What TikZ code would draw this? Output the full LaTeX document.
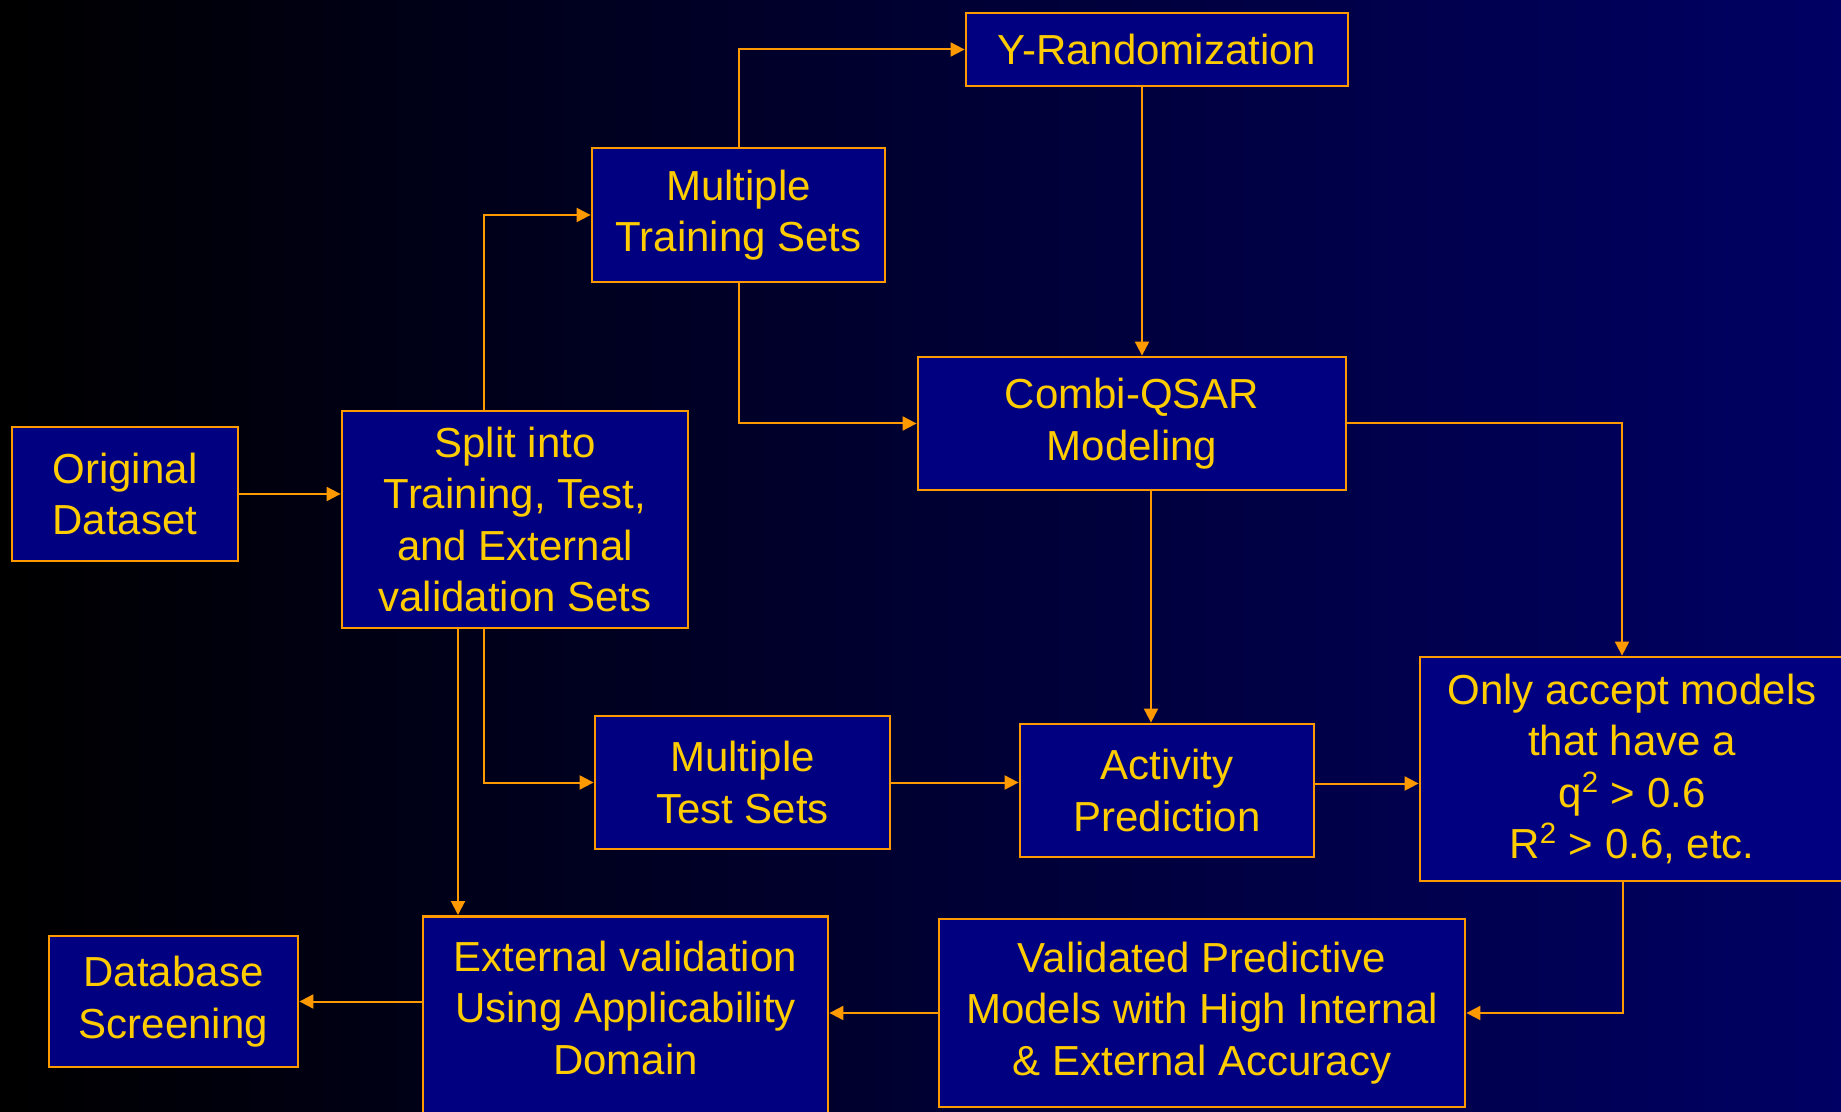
\documentclass[tikz,border=0pt]{standalone}
\usepackage{fontspec}
\setmainfont{Liberation Sans}
\usetikzlibrary{positioning}
\usetikzlibrary{calc, arrows.meta}

\definecolor{slidenavy}{RGB}{0,0,128}
\definecolor{bgnavy}{RGB}{0,0,100}
\definecolor{lineorange}{RGB}{255,153,0}
\definecolor{textyellow}{RGB}{255,204,0}

\tikzset{
  stage/.style={draw=lineorange, line width=1.4pt, fill=slidenavy, text=textyellow,
    align=center, inner sep=0pt, font=\fontsize{21}{25.8}\selectfont},
  flow/.style={draw=lineorange, line width=1pt, -{Triangle[length=7pt,width=7pt]}}
}

\begin{document}
\begin{tikzpicture}[x=0.5pt, y=-0.5pt]
% background
\useasboundingbox (0,0) rectangle (1841,1112);
\shade[left color=black, right color=bgnavy] (0,0) rectangle (1841,1112);

% boxes
\node[stage, minimum width=113pt, minimum height=67pt] (orig) at (125,494) {Original\\Dataset};
\node[stage, minimum width=173pt, minimum height=108.5pt] (split) at (515,519.5) {Split into\\Training, Test,\\and External\\validation Sets};
\node[stage, minimum width=146.5pt, minimum height=67pt] (train) at (738.5,215) {Multiple\\Training Sets};
\node[stage, minimum width=191pt, minimum height=36.5pt] (yrand) at (1157,49.5) {Y-Randomization};
\node[stage, minimum width=214pt, minimum height=66.5pt] (combi) at (1132,423.5) {Combi-QSAR\\Modeling};
\node[stage, minimum width=147.5pt, minimum height=66.5pt] (test) at (742.5,782.5) {Multiple\\Test Sets};
\node[stage, minimum width=147pt, minimum height=66.5pt] (activ) at (1167,790.5) {Activity\\Prediction};
\node[stage, minimum width=212pt, minimum height=112pt] (accept) at (1632,769) {Only accept models\\that have a\\q\textsuperscript{2} > 0.6\\R\textsuperscript{2} > 0.6, etc.};
\node[stage, minimum width=263pt, minimum height=94pt] (valid) at (1202,1013) {Validated Predictive\\Models with High Internal\\\& External Accuracy};
\node[stage, minimum width=202.5pt, text height=79pt, text depth=35pt, anchor=north] (extval) at (625.5,915) {External validation\\Using Applicability\\Domain};
\node[stage, minimum width=124.5pt, minimum height=65.5pt] (dbscreen) at (173.5,1001.5) {Database\\Screening};

% branch points
\coordinate (split up) at ($(split.north)+(-31,0)$);
\coordinate (split down) at ($(split.south)+(-31,0)$);
\coordinate (split ext) at ($(split.south)+(-57,0)$);
\coordinate (yrand out) at ($(yrand.south)+(-15,0)$);
\coordinate (combi out) at ($(combi.south)+(19,0)$);
\coordinate (accept in) at ($(accept.north)+(-10,0)$);
\coordinate (accept out) at ($(accept.south)+(-9,0)$);

% connectors
\draw[flow] (orig.east) -- (orig.east -| split.west);
\draw[flow] (split up) |- (train.west);
\draw[flow] (train.north) |- (yrand.west);
\draw[flow] (yrand out) -- (yrand out |- combi.north);
\draw[flow] (train.south) |- (combi.west);
\draw[flow] (combi.east) -| (accept in);
\draw[flow] (combi out) -- (combi out |- activ.north);
\draw[flow] (split down) |- (test.west);
\draw[flow] (split ext) -- (split ext |- extval.north);
\draw[flow] (test.east) -- (test.east -| activ.west);
\draw[flow] ($(activ.east)+(0,-7)$) -- ($(activ.east -| accept.west)+(0,-7)$);
\draw[flow] (accept out) |- (valid.east);
\draw[flow] (valid.west) -- (valid.west -| extval.east);
\draw[flow] (dbscreen.east -| extval.west) -- (dbscreen.east);

\end{tikzpicture}
\end{document}
